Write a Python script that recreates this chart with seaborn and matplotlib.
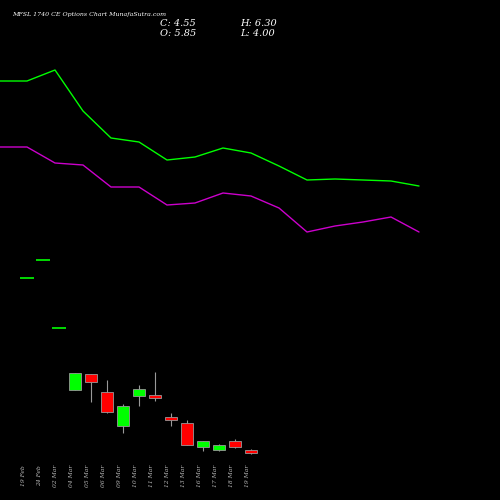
import matplotlib
matplotlib.use("Agg")
import matplotlib.pyplot as plt
import seaborn as sns
import numpy as np

sns.set_style("dark")

dates = ["19 Feb","24 Feb","02 Mar","04 Mar","05 Mar","06 Mar","09 Mar","10 Mar",
         "11 Mar","12 Mar","13 Mar","16 Mar","17 Mar","18 Mar","19 Mar"]
# prices (relative scale)
opens  = [92.0, 101.0, 67.0, 36.0, 44.0, 35.0, 18.0, 33.0, 33.5, 22.5, 19.5, 7.5, 6.0, 10.5, 5.85]
closes = [92.0, 101.0, 67.0, 44.5, 40.0, 25.0, 28.0, 36.5, 32.0, 21.0, 8.5, 10.5, 8.5, 7.5, 4.55]
highs  = [92.0, 101.0, 67.0, 44.5, 44.0, 41.0, 29.0, 38.5, 45.0, 24.5, 21.0, 10.5, 9.0, 11.5, 6.30]
lows   = [92.0, 101.0, 67.0, 36.0, 30.0, 24.5, 14.5, 28.0, 30.5, 18.0, 8.5, 5.5, 5.5, 7.0, 4.00]

green_line   = [190.5, 190.5, 196.0, 175.5, 162.0, 160.0, 151.0, 152.5, 157.0, 154.5, 148.0, 141.0, 141.5, 141.0, 140.5, 138.0]
magenta_line = [157.5, 157.5, 149.5, 148.5, 137.5, 137.5, 128.5, 129.5, 134.5, 133.0, 127.0, 115.0, 118.0, 120.0, 122.5, 115.0]

fig = plt.figure(figsize=(5, 5), dpi=100, facecolor="black")
ax = fig.add_axes([0, 0, 1, 1])
ax.set_facecolor("black")
ax.set_xlim(-27/16, (500-27)/16)
ax.set_ylim(-19, 231)
ax.axis("off")

x = np.arange(len(dates))
for i in x:
    o, c, h, l = opens[i], closes[i], highs[i], lows[i]
    col = "#00ff00" if c >= o else "#ff0000"
    ax.vlines(i, l, h, color="#999999", lw=0.8, zorder=1)
    bottom, height = min(o, c), abs(c - o)
    if height < 0.6:
        ax.hlines(o, i-0.45, i+0.45, color=col, lw=1.2, zorder=2)
    else:
        ax.bar(i, height, bottom=bottom, width=0.7, color=col, edgecolor="#999999", lw=0.6, zorder=2)
    ax.text(i-0.2, -1.5, dates[i], rotation=90, color="#bbbbbb", fontsize=4.3,
            family="DejaVu Serif", style="italic", ha="center", va="top")

ax2 = ax.twiny()
ax2.set_xlim(1/28, 501/28)
ax2.axis("off")
j = np.arange(len(green_line))
sns.lineplot(x=j, y=green_line, ax=ax2, color="#00ff00", lw=1.0)
sns.lineplot(x=j, y=magenta_line, ax=ax2, color="#cc00cc", lw=1.0)
ax2.set_ylim(-19, 231)

fig.text(0.025, 0.968, "MFSL 1740 CE Options Chart MunafaSutra.com", color="white",
         fontsize=4.5, family="DejaVu Serif", style="italic")
fig.text(0.32, 0.947, "C: 4.55", color="white", fontsize=7, family="DejaVu Serif", style="italic")
fig.text(0.32, 0.927, "O: 5.85", color="white", fontsize=7, family="DejaVu Serif", style="italic")
fig.text(0.48, 0.947, "H: 6.30", color="white", fontsize=7, family="DejaVu Serif", style="italic")
fig.text(0.48, 0.927, "L: 4.00", color="white", fontsize=7, family="DejaVu Serif", style="italic")

fig.savefig("out.png", dpi=100, facecolor="black")
